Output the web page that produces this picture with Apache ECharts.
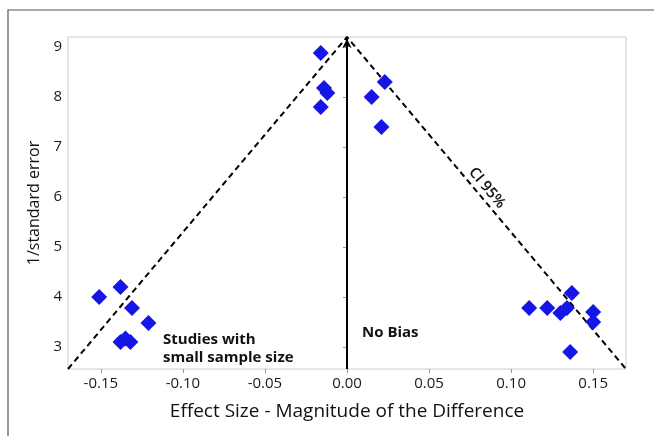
<!DOCTYPE html>
<html><head><meta charset="utf-8">
<script src="https://cdn.jsdelivr.net/npm/echarts@6/dist/echarts.min.js"></script>
<style>html,body{margin:0;padding:0;background:#fff}#c{width:654px;height:436px}</style>
</head><body><div id="c"></div>
<script>
const studyX = [-0.151,-0.138,-0.131,-0.121,-0.138,-0.135,-0.132,
  -0.016,-0.014,-0.012,-0.016,0.015,0.023,0.021,
  0.111,0.122,0.130,0.134,0.137,0.150,0.150,0.136];
const studyY = [4.00,4.20,3.78,3.48,3.10,3.17,3.10,
  8.88,8.18,8.08,7.80,8.00,8.30,7.40,
  3.78,3.78,3.68,3.78,4.08,3.70,3.50,2.90];
const ciX = [-0.17, 0, 0.17];
const ciY = [2.56, 9.2, 2.56];
const biasX = [0, 0];
const biasY = [2.56, 9.2];
const xTicks = [-0.15,-0.10,-0.05,0.00,0.05,0.10,0.15];
const yTicks = [3,4,5,6,7,8,9];

const font = '"Open Sans", "Noto Sans", sans-serif';
const chart = echarts.init(document.getElementById('c'), null, {renderer:'canvas'});
chart.setOption({
  animation:false,
  grid:{left:68, top:37, right:28, bottom:67, show:true, borderColor:'#cccccc', borderWidth:1},
  xAxis:{type:'value', min:-0.17, max:0.17, splitLine:{show:false},
    axisLine:{show:false},
    axisTick:{show:true, length:4, lineStyle:{color:'#999'}, customValues:xTicks},
    axisLabel:{customValues:xTicks, formatter:v=>v.toFixed(2), color:'#1a1a1a', fontSize:15, fontFamily:font, margin:7},
    name:'Effect Size - Magnitude of the Difference', nameLocation:'middle', nameGap:33,
    nameTextStyle:{color:'#111', fontSize:19, fontFamily:font}},
  yAxis:{type:'value', min:2.56, max:9.2, splitLine:{show:false},
    axisLine:{show:false},
    axisTick:{show:true, length:4, lineStyle:{color:'#999'}, customValues:yTicks},
    axisLabel:{customValues:yTicks, color:'#1a1a1a', fontSize:15, fontFamily:font, margin:6},
    name:'1/standard error', nameLocation:'middle', nameGap:22,
    nameTextStyle:{color:'#111', fontSize:16, fontFamily:font}},
  series:[
    {type:'line', data:ciX.map((x,i)=>[x,ciY[i]]), symbol:'none', silent:true,
      lineStyle:{color:'#000', width:2, type:[6,4]}, z:3},
    {type:'line', silent:true, showSymbol:true,
      data:biasX.map((x,i)=>({value:[x,biasY[i]], symbol: i===biasX.length-1 ? 'arrow' : 'none', symbolSize:[7,9], symbolOffset:[0,2]})),
      itemStyle:{color:'#000'}, lineStyle:{color:'#000', width:2}, z:3},
    {type:'scatter', data:studyX.map((x,i)=>[x,studyY[i]]), symbol:'diamond', symbolSize:16,
      itemStyle:{color:'#1515e6', opacity:1}, z:4}
  ],
  graphic:[
    {type:'rect', shape:{x:8, y:10, width:800, height:600}, style:{fill:'none', stroke:'#555', lineWidth:1.2}, z:-1},
    {type:'text', left:163, top:331, style:{text:'Studies with\nsmall sample size', font:'bold 15px '+font, fill:'#111', lineHeight:18}},
    {type:'text', left:362, top:325, style:{text:'No Bias', font:'bold 15px '+font, fill:'#111'}},
    {type:'text', x:487, y:188, rotation:-50*Math.PI/180, style:{text:'CI 95%', font:'600 15px '+font, fill:'#111', align:'center', verticalAlign:'middle'}}
  ]
});
</script></body></html>
